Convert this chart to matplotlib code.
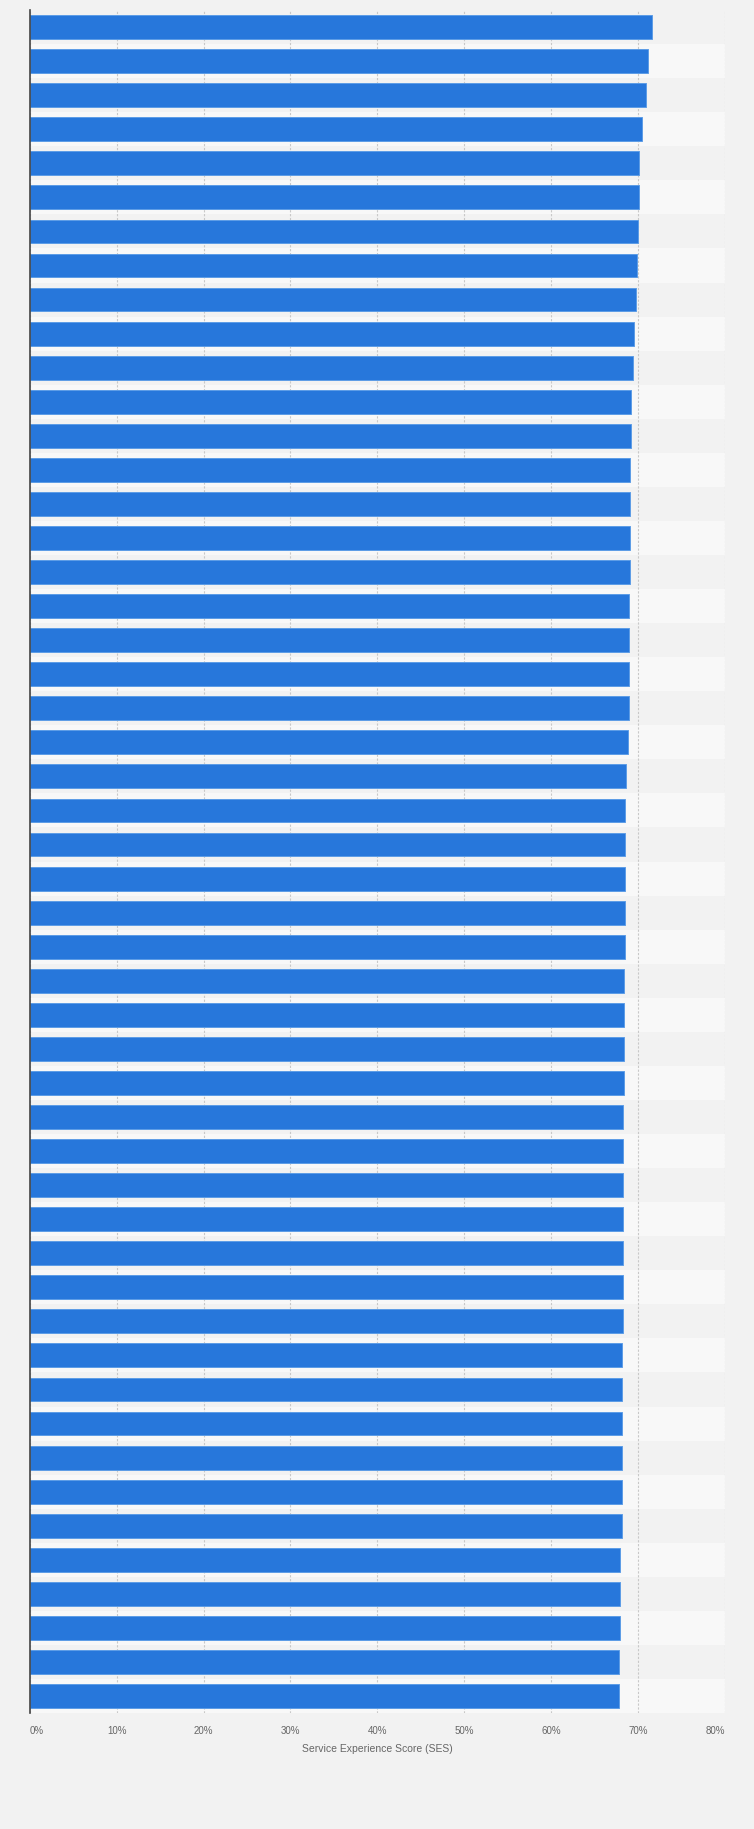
import numpy as np
import matplotlib
matplotlib.use("Agg")
import matplotlib.pyplot as plt

# Service Experience Score (SES) per company, ranked; names are not shown in the chart
ranks = list(range(1, 51))
ses_scores = [
    71.6, 71.2, 70.9, 70.5, 70.1, 70.1, 70.0, 69.9, 69.8, 69.5,
    69.4, 69.2, 69.2, 69.1, 69.1, 69.1, 69.1, 68.9, 68.9, 68.9,
    68.9, 68.8, 68.6, 68.5, 68.5, 68.5, 68.5, 68.5, 68.4, 68.4,
    68.4, 68.4, 68.3, 68.3, 68.3, 68.3, 68.3, 68.3, 68.3, 68.2,
    68.2, 68.2, 68.1, 68.1, 68.1, 67.9, 67.9, 67.9, 67.8, 67.8,
]
x_ticks = [0, 10, 20, 30, 40, 50, 60, 70, 80]
x_label = "Service Experience Score (SES)"


def main():
    plt.rcParams.update({
        "font.family": ["Liberation Sans", "DejaVu Sans"],
        "font.size": 7,
    })

    fig = plt.figure(figsize=(7.54, 18.29), dpi=100, facecolor="#f2f2f2")
    ax = fig.add_axes([0.0394, 0.0634, 0.9221, 0.9311])
    ax.set_facecolor("#f2f2f2")

    n = len(ranks)
    y = np.arange(n)

    # alternating row bands
    for i in y:
        color = "#f2f2f2" if i % 2 == 0 else "#f8f8f8"
        ax.axhspan(i - 0.5, i + 0.5, color=color, zorder=0, linewidth=0)

    ax.barh(y, ses_scores, height=0.7, color="#2777db",
            edgecolor="#5d9de6", linewidth=0.7, zorder=3)

    ax.set_xlim(0, 80)
    ax.set_ylim(n - 0.5, -0.5)
    ax.set_yticks([])

    ax.set_xticks(x_ticks)
    labels = ax.set_xticklabels([f"{t}%" for t in x_ticks], color="#666666", fontsize=7)
    labels[0].set_horizontalalignment("left")
    labels[-1].set_horizontalalignment("right")
    ax.tick_params(axis="x", length=0, pad=9)

    ax.grid(axis="x", color="#c8c8c8", linestyle=(0, (2, 1.5)), linewidth=0.8, zorder=1)
    ax.set_axisbelow(True)

    for side in ["top", "right", "bottom"]:
        ax.spines[side].set_visible(False)
    ax.spines["left"].set_color("#444444")
    ax.spines["left"].set_linewidth(1.2)
    ax.spines["left"].set_zorder(4)

    ax.set_xlabel(x_label, color="#666666", fontsize=7.5, labelpad=6)

    fig.savefig("out.png", dpi=100, facecolor=fig.get_facecolor())


if __name__ == "__main__":
    main()
